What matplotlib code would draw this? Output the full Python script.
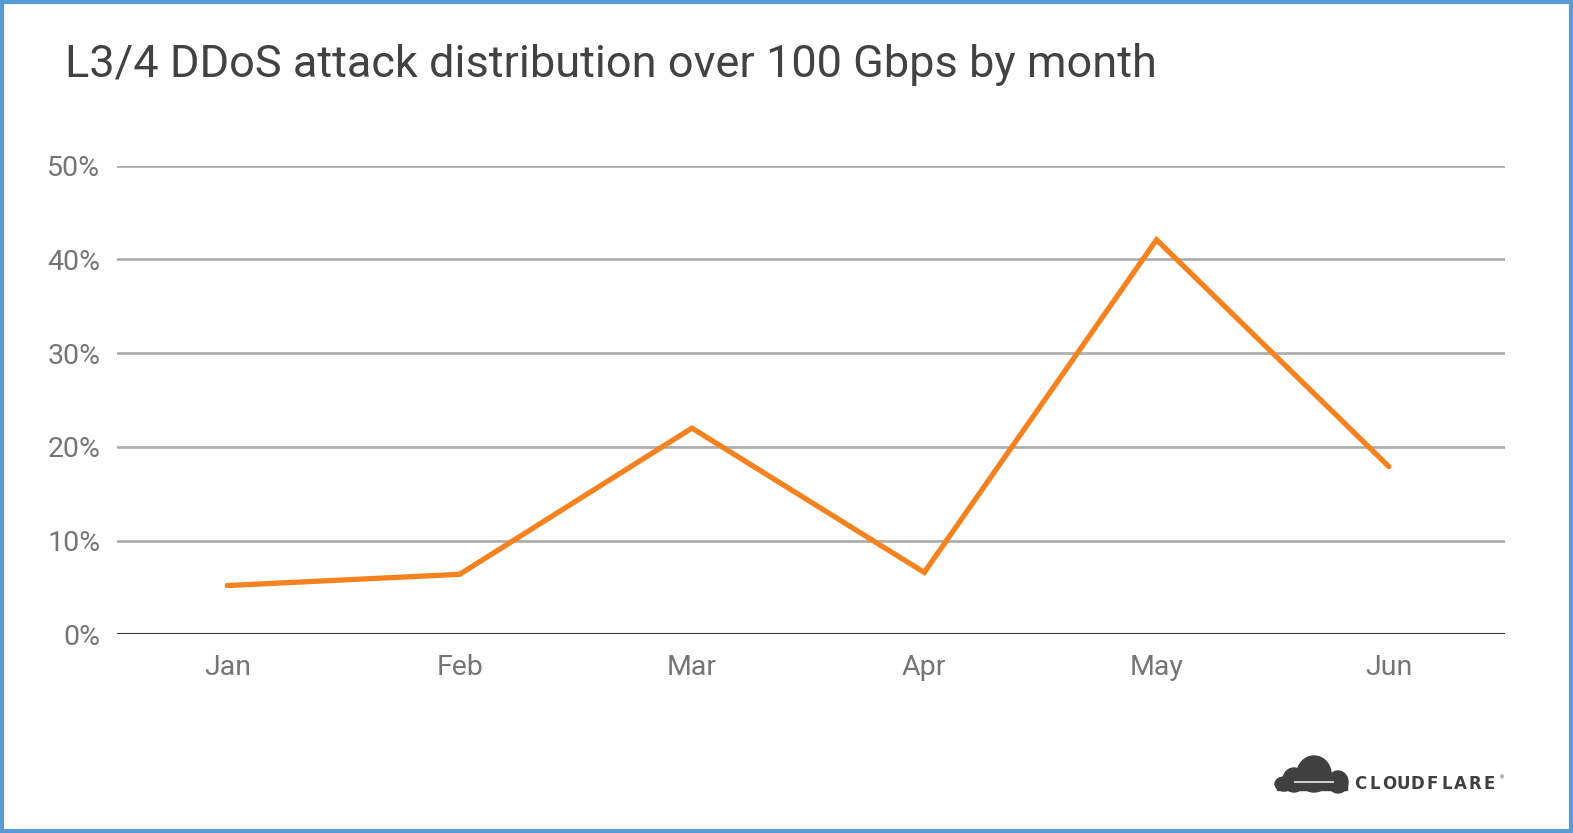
import matplotlib
matplotlib.use("Agg")
import matplotlib.pyplot as plt
from matplotlib.patches import Rectangle, Ellipse

months = ["Jan", "Feb", "Mar", "Apr", "May", "Jun"]
share = [5.2, 6.4, 22.0, 6.6, 42.1, 17.9]  # % of L3/4 attacks over 100 Gbps
yticks = [0, 10, 20, 30, 40, 50]

plt.rcParams['font.family'] = ['Roboto', 'DejaVu Sans']

W, H = 1573, 833
fig = plt.figure(figsize=(W / 100, H / 100), dpi=100)
fig.patch.set_facecolor('white')

ax = fig.add_axes([117 / W, 1 - 634.3 / H, (1505 - 117) / W, (634.3 - 165.7) / H])
x = range(len(months))
ax.plot(x, share, color='#f6821f', linewidth=3.8, solid_capstyle='round', solid_joinstyle='miter', zorder=3)

ax.set_xlim(-0.475, 5.5)
ax.set_ylim(0, 50)
ax.set_yticks(yticks)
ax.set_yticklabels([f"{v}%" for v in yticks])
ax.set_xticks(list(x))
ax.set_xticklabels(months)
for v in yticks[1:]:
    ax.axhline(v, color='#ababab', linewidth=1.9, zorder=1)
ax.axhline(0, color='#333333', linewidth=2.2, zorder=2)
for s in ax.spines.values():
    s.set_visible(False)
ax.tick_params(axis='both', length=0, labelsize=20.5, labelcolor='#757575')
ax.tick_params(axis='y', pad=12)
ax.tick_params(axis='x', pad=14)

fig.text(65 / W, 1 - 77 / H, "L3/4 DDoS attack distribution over 100 Gbps by month",
         fontsize=32.5, color='#424242', ha='left', va='baseline')

# Cloudflare logo (approximate)
lg = fig.add_axes([1270 / W, 1 - 795 / H, 240 / W, 45 / H])
lg.set_xlim(1270, 1510)
lg.set_ylim(795, 750)
lg.axis('off')
dark = '#404041'
lg.add_patch(Ellipse((1314, 774), 34, 36, color=dark))
lg.add_patch(Ellipse((1294, 780), 22, 24, color=dark))
lg.add_patch(Ellipse((1284, 784), 18, 14, color=dark))
lg.add_patch(Ellipse((1338, 782), 20, 22, color=dark))
lg.add_patch(Rectangle((1277, 782), 70, 8, color=dark))
lg.plot([1295, 1333], [782, 782], color='#e0e0e0', linewidth=1.3)
for i, ch in enumerate("CLOUDFLARE"):
    lg.text(1360 + i * 14.4, 784, ch, fontsize=12, fontweight='heavy', color=dark,
            ha='center', va='center', family='DejaVu Sans')
lg.text(1500, 778, "\u00ae", fontsize=4, color=dark, ha='left', va='center')

fig.add_artist(Rectangle((0.001, 0.002), 0.998, 0.996, transform=fig.transFigure,
                         fill=False, edgecolor='#5b9bd5', linewidth=3))

fig.savefig("out.png", dpi=100, facecolor='white')
